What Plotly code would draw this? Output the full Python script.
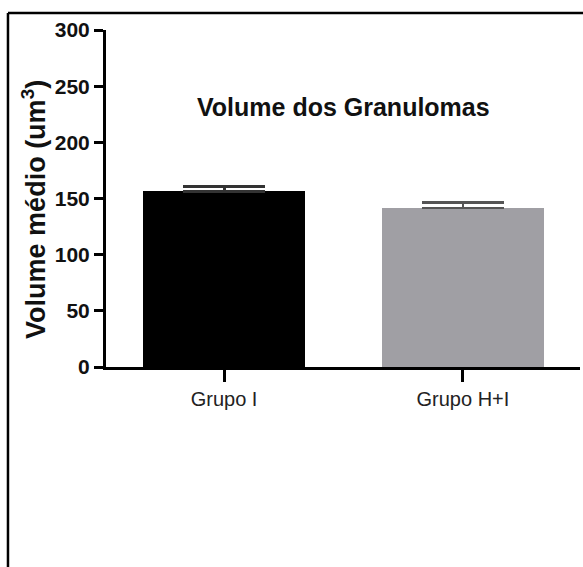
import plotly.graph_objects as go

categories = ["Grupo I", "Grupo H+I"]
means = [156.5, 141.5]
errors = [4.5, 5.0]
bar_colors = ["#000000", "#a09fa4"]
err_colors = ["#333333", "#555555"]
y_ticks = [0, 50, 100, 150, 200, 250, 300]

FONT = "Arial, Liberation Sans, sans-serif"

fig = go.Figure()
for i, cat in enumerate(categories):
    fig.add_trace(go.Bar(
        x=[i], y=[means[i]], width=0.675,
        marker=dict(color=bar_colors[i], line=dict(width=0)),
        error_y=dict(type="data", symmetric=False,
                     array=[errors[i]], arrayminus=[0], visible=True,
                     color=err_colors[i], thickness=3 if i == 0 else 2.5,
                     width=41),
        showlegend=False,
    ))

fig.update_layout(
    width=583, height=567,
    margin=dict(l=106, r=3, t=30, b=200),
    paper_bgcolor="white", plot_bgcolor="white",
    font=dict(family=FONT, color="#111111"),
    bargap=0,
)

fig.update_xaxes(
    range=[-0.494, 1.49],
    tickmode="array", tickvals=list(range(len(categories))), ticktext=categories,
    showline=True, linecolor="black", linewidth=3,
    ticks="outside", ticklen=12, tickwidth=3, tickcolor="black",
    tickfont=dict(family=FONT, size=20, color="#222222"),
    showgrid=False, zeroline=False, fixedrange=True,
)
fig.update_yaxes(
    range=[0, 300],
    tickmode="array", tickvals=y_ticks, ticktext=[str(v) for v in y_ticks],
    showline=True, linecolor="black", linewidth=3,
    ticks="outside", ticklen=9, tickwidth=3, tickcolor="black",
    tickfont=dict(family=FONT, size=21, color="#111111", weight="bold"),
    showgrid=False, zeroline=False, fixedrange=True,
)

# Title
fig.add_annotation(
    text="<b>Volume dos Granulomas</b>", x=0.5, y=0.7715,
    xref="paper", yref="paper", showarrow=False,
    xanchor="center", yanchor="middle",
    font=dict(family=FONT, size=25, color="#111111"),
)
# Y-axis title
fig.add_annotation(
    text="<b>Volume médio (um<sup>3</sup>)</b>", x=-0.152, y=0.469,
    xref="paper", yref="paper", showarrow=False, textangle=-90,
    xanchor="center", yanchor="middle",
    font=dict(family=FONT, size=27, color="#111111"),
)

# Outer frame (top and left edges visible)
fig.add_shape(type="line", xref="paper", yref="paper",
              x0=-0.2068, x1=1.05, y0=1.0504, y1=1.0504,
              line=dict(color="black", width=2.5))
fig.add_shape(type="line", xref="paper", yref="paper",
              x0=-0.2068, x1=-0.2068, y0=1.0504, y1=-0.62,
              line=dict(color="black", width=2.5))

fig.write_html("out.html")
